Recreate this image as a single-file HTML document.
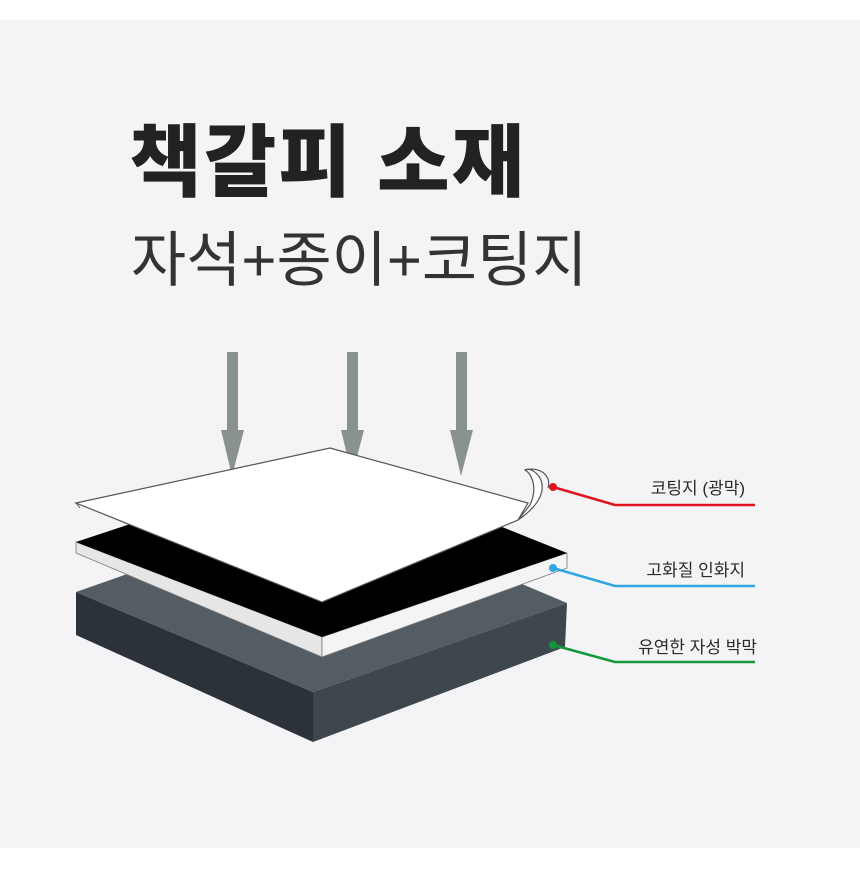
<!DOCTYPE html>
<html><head><meta charset="utf-8"><style>
body{margin:0;width:860px;height:870px;background:#fff;overflow:hidden}
.bg{position:absolute;left:0;top:20px;width:860px;height:828px;background:#f4f4f6}
.t{position:absolute;font-family:"Liberation Sans","Noto Sans CJK KR",sans-serif;color:#2a2a2a;white-space:nowrap}
</style></head><body>
<div class="bg"></div>
<div class="t" style="left:129px;top:98px;font-size:79px;font-weight:900;letter-spacing:2px;color:#222">책갈피 소재</div>
<div class="t" style="left:131px;top:212px;font-size:60px;font-weight:400;letter-spacing:0px;color:#333">자석+종이+코팅지</div>
<svg width="860" height="870" style="position:absolute;left:0;top:0">
<g fill="#8a9191">
<rect x="227" y="352" width="11" height="80"/><polygon points="221,430 244,430 232,476"/>
<rect x="347" y="352" width="11" height="80"/><polygon points="341,430 364,430 352,476"/>
<rect x="456" y="352" width="11" height="80"/><polygon points="450,430 473,430 461,476"/>
</g>
<polygon points="76,592 313,692 313,742 76,635" fill="#2b323a"/>
<polygon points="313,692 567,603 565,647 313,742" fill="#3e474e"/>
<polygon points="76,592 330,503 567,603 313,692" fill="#555d64"/>
<polygon points="76,542 322,637 322,657 76,553" fill="#e6e6e6" stroke="#777" stroke-width="0.8"/>
<polygon points="322,637 567,553 567,568 322,657" fill="#f4f4f4" stroke="#777" stroke-width="0.8"/>
<polygon points="76,542 330,458 567,553 322,637" fill="#000"/>
<polygon points="76,503 330,448 528,503 518,520 322,602" fill="#fff" stroke="#555" stroke-width="1.2"/>
<line x1="76" y1="503" x2="80" y2="508" stroke="#555"/>
<path d="M518,520 C540,505 546,490 540,478 C535,470 528,468 525,470 C532,474 538,488 530,505 Z" fill="#fff" stroke="#555" stroke-width="1.2"/>
<path d="M525,470 C540,466 552,476 548,488" fill="none" stroke="#555" stroke-width="1.2"/>
<g fill="none" stroke-width="2.5">
<polyline points="553,487 615,505 755,505" stroke="#e0141e"/>
<polyline points="553,568 615,586 755,586" stroke="#2ea6e0"/>
<polyline points="553,645 615,662 755,662" stroke="#129838"/>
</g>
<circle cx="553" cy="487" r="4" fill="#e0141e"/>
<circle cx="553" cy="568" r="4" fill="#2ea6e0"/>
<circle cx="553" cy="645" r="4" fill="#129838"/>
</svg>
<div class="t" style="right:115px;top:474px;font-size:17px">코팅지 (광막)</div>
<div class="t" style="right:115px;top:556px;font-size:17px">고화질 인화지</div>
<div class="t" style="right:103px;top:633px;font-size:17px">유연한 자성 박막</div>
</body></html>
